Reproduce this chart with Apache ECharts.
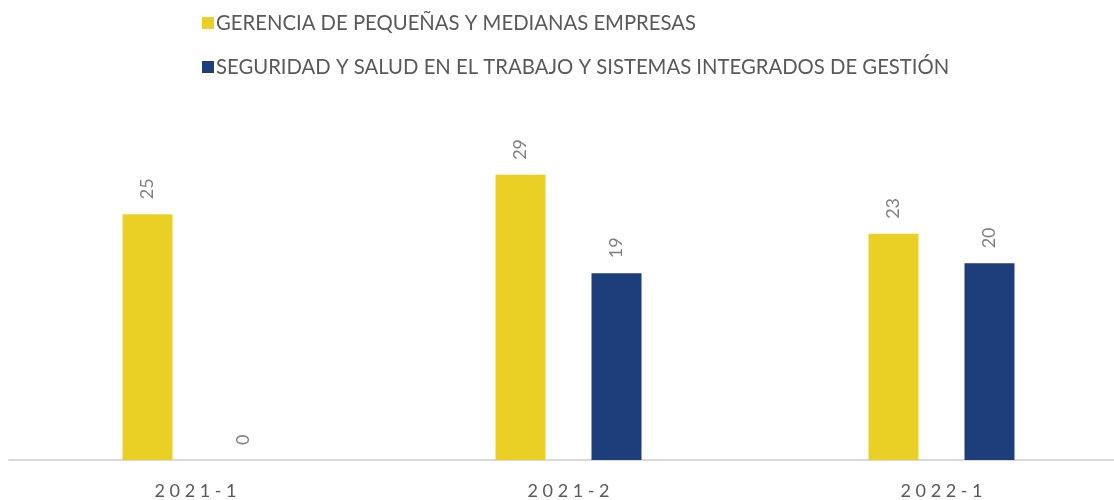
<!DOCTYPE html>
<html>
<head>
<meta charset="utf-8">
<script src="https://cdn.jsdelivr.net/npm/echarts@6/dist/echarts.min.js"></script>
<style>
  html, body { margin: 0; padding: 0; background: #fff; overflow: hidden; }
  #chart { width: 1130px; height: 500px; }
</style>
</head>
<body>
<div id="chart"></div>
<script>
// periodos y matriculados por programa
var periodos = ['2021-1', '2021-2', '2022-1'];
var gerencia = [25, 29, 23];
var seguridad = [0, 19, 20];
var nombres = [
  'GERENCIA DE PEQUEÑAS Y MEDIANAS EMPRESAS',
  'SEGURIDAD Y SALUD EN EL TRABAJO Y SISTEMAS INTEGRADOS DE GESTIÓN'
];

var fuente = 'Lato, "Open Sans", sans-serif';
var myChart = echarts.init(document.getElementById('chart'));

var etiqueta = {
  show: true,
  position: 'top',
  rotate: 90,
  align: 'left',
  verticalAlign: 'middle',
  distance: 15,
  color: '#808080',
  fontSize: 18,
  fontFamily: fuente
};

var option = {
  animation: false,
  legend: {
    orient: 'vertical',
    left: 197,
    top: 8,
    itemWidth: 12,
    itemHeight: 12,
    itemGap: 24,
    icon: 'rect',
    textStyle: { color: '#595959', fontSize: 20.3, fontFamily: fuente, padding: [0, 0, 0, -3] },
    data: nombres
  },
  grid: { left: 9, width: 1119, top: 165, bottom: 39 },
  xAxis: {
    type: 'category',
    data: periodos,
    axisLine: { lineStyle: { color: '#d9d9d9', width: 2 } },
    axisTick: { show: false },
    axisLabel: {
      color: '#595959',
      fontSize: 18,
      fontFamily: fuente,
      margin: 22,
      // espaciado entre caracteres
      formatter: function (v) { return v.split('').join(' '); }
    }
  },
  yAxis: {
    type: 'value',
    min: 0,
    max: 30,
    show: false,
    splitLine: { show: false }
  },
  series: [
    {
      name: nombres[0],
      type: 'bar',
      data: gerencia,
      barWidth: 50,
      barGap: '92%',
      itemStyle: { color: '#EAD024' },
      label: etiqueta
    },
    {
      name: nombres[1],
      type: 'bar',
      data: seguridad,
      barWidth: 50,
      itemStyle: { color: '#1E3D7B' },
      label: etiqueta
    }
  ]
};
myChart.setOption(option);
</script>
</body>
</html>
